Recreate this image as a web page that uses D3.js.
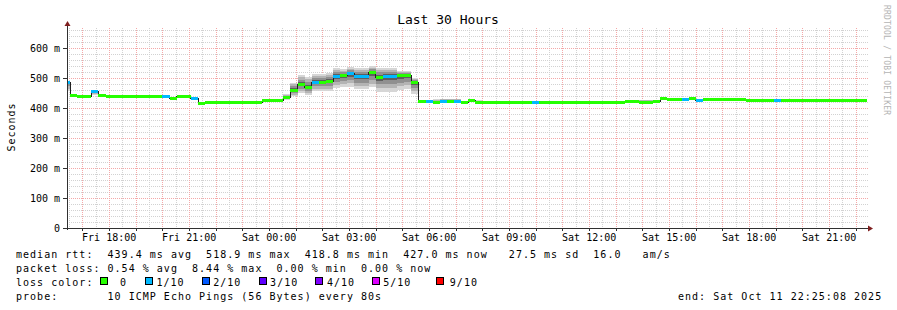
<!DOCTYPE html>
<html>
<head>
<meta charset="utf-8">
<script src="https://cdn.jsdelivr.net/npm/d3@7/dist/d3.min.js"></script>
<style>
  html, body { margin: 0; padding: 0; background: #fff; }
  svg { display: block; }
  text { font-family: "DejaVu Sans Mono", monospace; fill: #000; }
</style>
</head>
<body>
<svg id="chart" width="897" height="310"></svg>
<script>
/* ---- smokeping "Last 30 Hours" ---- */

const END_TIME    = Date.UTC(2025, 9, 11, 22, 25, 8);
const START_TIME  = END_TIME - 30 * 3600 * 1000;
const BUCKET_START = Date.UTC(2025, 9, 10, 16, 16, 0);
const BUCKET_MS   = 16 * 60 * 1000;

// median rtt per 16 min bucket (ms)
const median = [
  487, 444, 441, 441, 458, 444, 441, 441, 441, 441,
  441, 441, 441, 441, 441, 434, 441, 441, 434, 418,
  421, 421, 421, 421, 421, 421, 421, 421, 426, 426,
  426, 436, 460, 480, 469, 487, 487, 491, 507, 510,
  516, 507, 507, 519, 504, 507, 508, 510, 510, 488,
  422, 422, 421, 423, 423, 423, 421, 426, 421, 421,
  421, 421, 421, 421, 421, 421, 421, 421, 421, 421,
  421, 421, 421, 421, 421, 421, 421, 421, 421, 424,
  424, 421, 421, 423, 432, 430, 430, 430, 434, 428,
  430, 430, 430, 430, 430, 430, 427, 427, 427, 427,
  427, 427, 427, 427, 427, 427, 427, 427, 427, 427,
  427, 427, 427, 427
];

// lost pings out of 10 per bucket
const loss = [
  1, 0, 0, 0, 1, 0, 0, 0, 0, 0,
  0, 0, 0, 0, 1, 0, 0, 0, 1, 0,
  0, 0, 0, 0, 0, 0, 0, 0, 0, 0,
  0, 0, 0, 0, 0, 1, 0, 0, 1, 0,
  1, 1, 1, 0, 0, 1, 1, 0, 0, 0,
  0, 1, 0, 1, 0, 1, 0, 0, 0, 0,
  0, 0, 0, 0, 0, 0, 1, 0, 0, 0,
  0, 0, 0, 0, 0, 0, 0, 0, 0, 0,
  0, 0, 0, 0, 0, 0, 0, 1, 0, 1,
  0, 0, 0, 0, 0, 0, 0, 0, 0, 0,
  1, 0, 0, 0, 0, 0, 0, 0, 0, 0,
  0, 0, 0, 0
];

// smoke: spread of the pings above / below the median (ms)
const smokeUp = [
  0, 0, 0, 0, 0, 0, 0, 0, 0, 0,
  0, 0, 0, 0, 0, 0, 0, 0, 0, 0,
  0, 0, 0, 0, 0, 0, 0, 0, 0, 0,
  0, 10, 25, 30, 35, 25, 25, 25, 25, 20,
  20, 25, 25, 20, 30, 25, 25, 12, 12, 12,
  0, 0, 8, 8, 8, 8, 0, 5, 5, 0,
  0, 0, 0, 0, 0, 0, 0, 0, 0, 0,
  0, 0, 0, 0, 0, 0, 0, 0, 0, 0,
  0, 6, 6, 0, 5, 0, 0, 0, 3, 0,
  0, 0, 0, 0, 0, 0, 0, 0, 0, 0,
  0, 0, 0, 0, 0, 0, 0, 0, 0, 0,
  0, 0, 0, 0
];
const smokeDown = [
  30, 0, 0, 0, 15, 0, 0, 0, 0, 0,
  0, 0, 0, 0, 0, 0, 0, 0, 0, 0,
  0, 0, 0, 0, 0, 0, 0, 0, 0, 0,
  0, 10, 20, 30, 25, 30, 30, 35, 40, 40,
  45, 45, 45, 50, 50, 55, 55, 50, 45, 40,
  0, 0, 0, 0, 0, 0, 0, 0, 0, 0,
  0, 0, 0, 0, 0, 0, 0, 0, 0, 0,
  0, 0, 0, 0, 0, 0, 0, 0, 0, 0,
  0, 0, 0, 0, 0, 0, 0, 0, 0, 0,
  0, 0, 0, 0, 0, 0, 0, 0, 0, 0,
  0, 0, 0, 0, 0, 0, 0, 0, 0, 0,
  0, 0, 0, 0
];

const yTicks = [0, 100, 200, 300, 400, 500, 600];
const lossLabels = ['0', '1/10', '2/10', '3/10', '4/10', '5/10', '9/10'];
const lossColors = ['#26ff00', '#00b8ff', '#0059ff', '#5e00ff', '#7e00ff', '#dd00ff', '#ff0000'];

const rttValues = [439.4, 518.9, 418.8, 427.0];
const rttNames  = ['avg', 'max', 'min', 'now'];
const rttSd = 27.5;
const amPerS = 16.0;
const lossValues = [0.54, 8.44, 0.00, 0.00];
const probeText = '10 ICMP Echo Pings (56 Bytes) every 80s';
const endText = 'end: Sat Oct 11 22:25:08 2025';

// ---- layout ----
const L = 67, R = 867, T = 28, B = 228;
const CHAR = 7.02;
const svg = d3.select('#chart');

const x = d3.scaleUtc().domain([START_TIME, END_TIME]).range([L, R]);
const y = d3.scaleLinear().domain([0, 666.67]).range([B, T]);

svg.append('defs').append('clipPath').attr('id', 'plot')
  .append('rect').attr('x', L).attr('y', T - 2).attr('width', R - L).attr('height', B - T + 2);

// grid
const grid = svg.append('g').attr('shape-rendering', 'crispEdges');
const minorY = d3.range(0, 667, 20).filter(v => v % 100 !== 0);
grid.selectAll('.gy').data(minorY).enter().append('line')
  .attr('x1', L).attr('x2', R + 1).attr('y1', d => Math.round(y(d)) + 0.5).attr('y2', d => Math.round(y(d)) + 0.5)
  .attr('stroke', '#d2d2d2').attr('stroke-dasharray', '1,1');
const minorX = d3.utcMinute.every(30).range(new Date(START_TIME), new Date(END_TIME))
  .filter(d => d.getUTCMinutes() !== 0);
grid.selectAll('.gx').data(minorX).enter().append('line')
  .attr('x1', d => Math.round(x(d)) + 0.5).attr('x2', d => Math.round(x(d)) + 0.5).attr('y1', T).attr('y2', B)
  .attr('stroke', '#d2d2d2').attr('stroke-dasharray', '1,1');
grid.selectAll('.my').data(yTicks.filter(v => v > 0)).enter().append('line')
  .attr('x1', L).attr('x2', R + 1).attr('y1', d => Math.round(y(d)) + 0.5).attr('y2', d => Math.round(y(d)) + 0.5)
  .attr('stroke', '#f4a8a8').attr('stroke-dasharray', '1,1');
const hours = d3.utcHour.every(1).range(new Date(START_TIME), new Date(END_TIME));
grid.selectAll('.mx').data(hours).enter().append('line')
  .attr('x1', d => Math.round(x(d)) + 0.5).attr('x2', d => Math.round(x(d)) + 0.5).attr('y1', T).attr('y2', B)
  .attr('stroke', '#f4a8a8').attr('stroke-dasharray', '1,1');

// data
const buckets = median.map((m, i) => ({
  t0: BUCKET_START + i * BUCKET_MS,
  t1: BUCKET_START + (i + 1) * BUCKET_MS,
  m, up: smokeUp[i], down: smokeDown[i], loss: loss[i]
}));

const plot = svg.append('g').attr('clip-path', 'url(#plot)').attr('shape-rendering', 'crispEdges');

const smokeShades = [[1, '#d6d6d6'], [0.75, '#b4b4b4'], [0.5, '#909090'], [0.25, '#5e5e5e']];
smokeShades.forEach(([f, c]) => {
  plot.append('g').selectAll('rect')
    .data(buckets.filter(d => d.up + d.down > 0)).enter().append('rect')
    .attr('x', d => x(d.t0)).attr('width', d => x(d.t1) - x(d.t0))
    .attr('y', d => y(d.m + d.up * f))
    .attr('height', d => y(d.m - d.down * f) - y(d.m + d.up * f))
    .attr('fill', c);
});

const stepLine = d3.line().curve(d3.curveStepAfter).x(d => x(d[0])).y(d => Math.round(y(d[1])) + 0.5);
const pts = buckets.map(d => [d.t0, d.m]);
pts.push([buckets[buckets.length - 1].t1, buckets[buckets.length - 1].m]);
plot.append('path').attr('d', stepLine(pts)).attr('fill', 'none').attr('stroke', '#202020').attr('stroke-width', 1);

plot.append('g').selectAll('rect').data(buckets).enter().append('rect')
  .attr('x', d => x(d.t0)).attr('width', d => x(d.t1) - x(d.t0))
  .attr('y', d => Math.round(y(d.m)) - 1).attr('height', 3)
  .attr('fill', d => lossColors[Math.min(d.loss, 6)]);

// axes
const ax = svg.append('g').attr('shape-rendering', 'crispEdges');
ax.append('line').attr('x1', L - 4).attr('x2', R + 2).attr('y1', B + 0.5).attr('y2', B + 0.5).attr('stroke', '#303030');
ax.append('line').attr('x1', L + 0.5).attr('x2', L + 0.5).attr('y1', B + 2).attr('y2', T - 3).attr('stroke', '#303030');
ax.selectAll('.yt').data(yTicks).enter().append('line')
  .attr('x1', L - 4).attr('x2', L).attr('y1', d => Math.round(y(d)) + 0.5).attr('y2', d => Math.round(y(d)) + 0.5)
  .attr('stroke', '#303030');
ax.selectAll('.xt').data(hours).enter().append('line')
  .attr('x1', d => Math.round(x(d)) + 0.5).attr('x2', d => Math.round(x(d)) + 0.5).attr('y1', B).attr('y2', B + 3)
  .attr('stroke', '#303030');
svg.append('path').attr('d', `M${L - 2.5},${T - 2}L${L + 0.5},${T - 7}L${L + 3.5},${T - 2}Z`).attr('fill', '#7f1f1f');
svg.append('path').attr('d', `M${R + 1},${B - 2.5}L${R + 6},${B + 0.5}L${R + 1},${B + 3.5}Z`).attr('fill', '#7f1f1f');

svg.append('g').selectAll('text').data(yTicks).enter().append('text')
  .attr('x', 60).attr('y', d => y(d) + 3.5).attr('text-anchor', 'end').attr('font-size', 10)
  .text(d => d === 0 ? '0' : d + ' m');

const labelTimes = d3.utcHour.every(3).range(new Date(START_TIME), new Date(END_TIME));
const fmt = d3.utcFormat('%a %H:%M');
svg.append('g').selectAll('text').data(labelTimes).enter().append('text')
  .attr('x', d => x(d)).attr('y', 241).attr('text-anchor', 'middle').attr('font-size', 10)
  .text(d => fmt(d));

// titles
svg.append('text').attr('x', 448).attr('y', 24).attr('text-anchor', 'middle').attr('font-size', 13).text('Last 30 Hours');
svg.append('text').attr('transform', 'translate(15,127) rotate(-90)').attr('text-anchor', 'middle')
  .attr('font-size', 10).style('letter-spacing', '1px').text('Seconds');
svg.append('text').attr('transform', 'translate(884,5) rotate(90)').attr('font-size', 8)
  .style('letter-spacing', '0.2px').style('fill', '#b4b4b4').text('RRDTOOL / TOBI OETIKER');

// legend
function legendText(col, row, str) {
  return svg.append('text').attr('x', 16 + col * CHAR).attr('y', 257.5 + row * 14)
    .attr('font-size', 10).style('letter-spacing', '1.02px')
    .attr('xml:space', 'preserve').style('white-space', 'pre').text(str);
}
const rttStr = rttValues.map((v, i) => v.toFixed(1) + ' ms ' + rttNames[i]).join('  ');
legendText(0, 0, 'median rtt:  ' + rttStr + '  ' + rttSd.toFixed(1).padStart(5) + ' ms sd  ' + amPerS.toFixed(1) + '   am/s');
const lossStr = lossValues.map((v, i) => v.toFixed(2) + ' % ' + rttNames[i]).join('  ');
legendText(0, 1, 'packet loss: ' + lossStr);
legendText(0, 2, 'loss color:');
const boxCols = [12.0, 18.4, 26.5, 34.6, 42.6, 50.7, 59.8];
const textCols = [14.8, 20.0, 28.1, 36.2, 44.3, 52.3, 61.8];
lossLabels.forEach((lab, i) => {
  svg.append('rect').attr('x', 16 + boxCols[i] * CHAR + 0.5).attr('y', 277.5).attr('width', 7).attr('height', 7)
    .attr('fill', lossColors[i]).attr('stroke', '#000').attr('stroke-width', 1).attr('shape-rendering', 'crispEdges');
  legendText(textCols[i], 2, lab);
});
legendText(0, 3, 'probe:       ' + probeText);
svg.append('text').attr('x', 678).attr('y', 257.5 + 3 * 14).attr('font-size', 10)
  .style('letter-spacing', '1.02px').style('white-space', 'pre').text(endText);
</script>
</body>
</html>
